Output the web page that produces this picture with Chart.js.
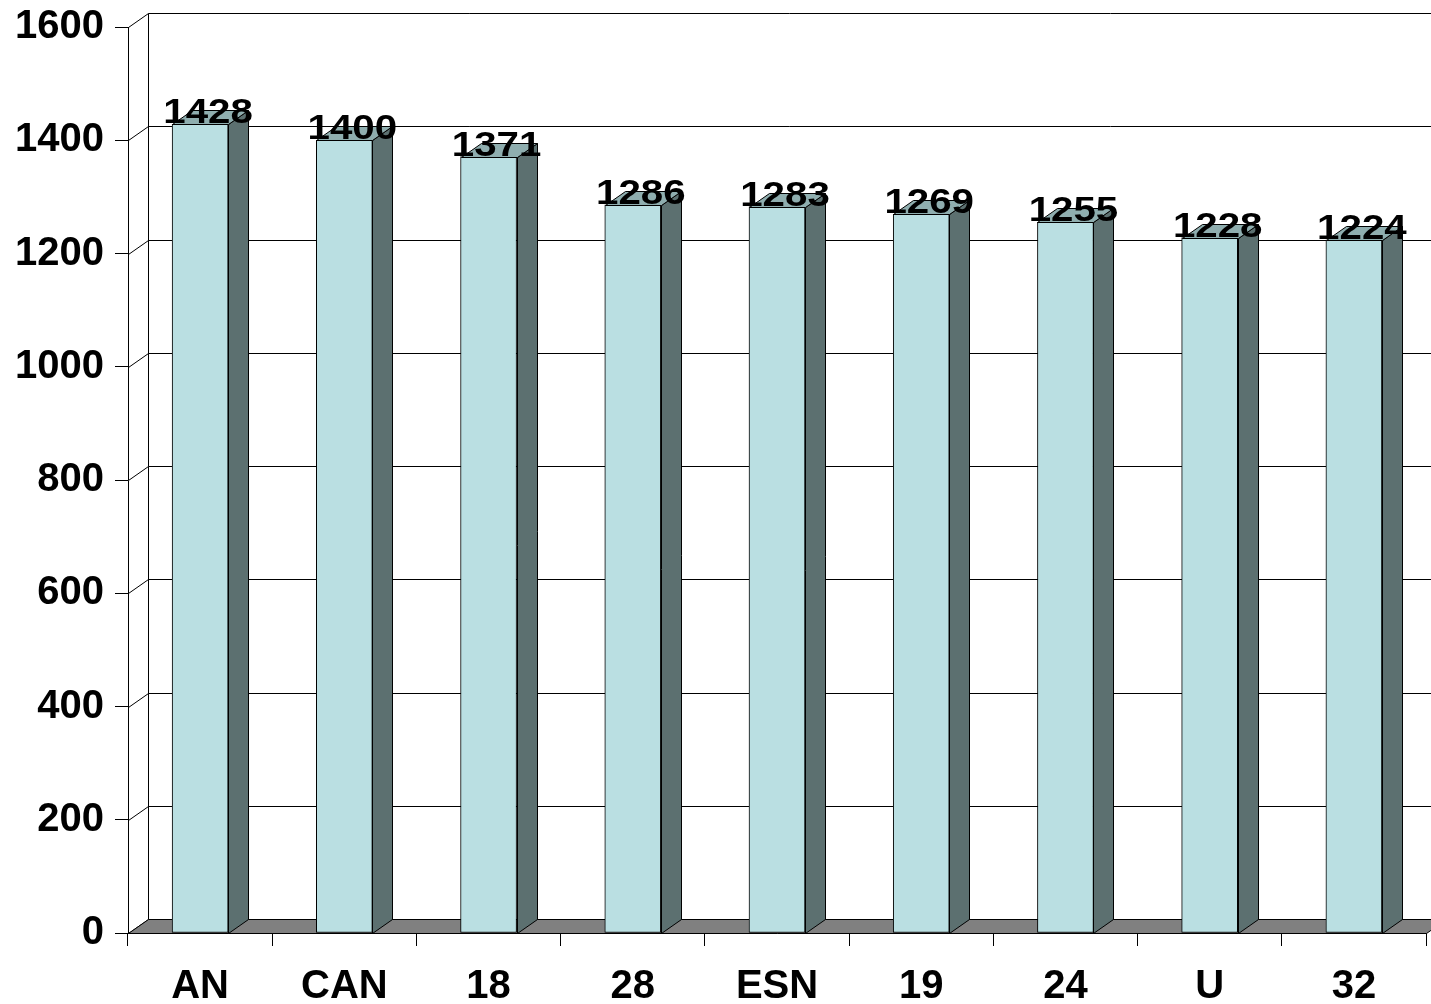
<!DOCTYPE html>
<html>
<head>
<meta charset="utf-8">
<script src="https://cdn.jsdelivr.net/npm/chart.js@4/dist/chart.umd.min.js"></script>
<style>
  html, body { margin: 0; padding: 0; background: #fff; overflow: hidden; }
  #wrap { width: 1431px; height: 1004px; position: relative; }
</style>
</head>
<body>
<div id="wrap"><canvas id="c"></canvas></div>
<script>
const categories = ['AN', 'CAN', '18', '28', 'ESN', '19', '24', 'U', '32'];
const values = [1428, 1400, 1371, 1286, 1283, 1269, 1255, 1228, 1224];
const yTicks = [0, 200, 400, 600, 800, 1000, 1200, 1400, 1600];

// depth of the 3-D box (pixels to the right / up)
const DX = 20, DY = 14;
const FRONT = '#BADFE2', SIDE = '#5C7070', TOP = '#8FAEAF', FLOOR = '#808080';
const FONT = '"Liberation Sans", Arial, sans-serif';

function poly(ctx, pts, fill) {
  ctx.beginPath();
  ctx.moveTo(pts[0][0], pts[0][1]);
  for (let i = 1; i < pts.length; i++) ctx.lineTo(pts[i][0], pts[i][1]);
  ctx.closePath();
  if (fill) { ctx.fillStyle = fill; ctx.fill(); }
  ctx.stroke();
}
function seg(ctx, x1, y1, x2, y2) {
  ctx.beginPath(); ctx.moveTo(x1, y1); ctx.lineTo(x2, y2); ctx.stroke();
}

// back wall, side wall and floor of the 3-D box
const wallsPlugin = {
  id: 'walls3d',
  beforeDatasetsDraw(chart) {
    const { ctx, chartArea: a, scales: { y } } = chart;
    ctx.save();
    ctx.strokeStyle = '#000';
    ctx.lineWidth = 1;
    const L = a.left + 0.5;
    yTicks.forEach(v => {
      const py = Math.round(y.getPixelForValue(v)) + 0.5;
      if (v > 0) seg(ctx, L + DX, py - DY, chart.width, py - DY);
      seg(ctx, L, py, L + DX, py - DY);
    });
    const top = Math.round(y.getPixelForValue(yTicks[yTicks.length - 1])) + 0.5;
    const bot = Math.round(y.getPixelForValue(0)) + 0.5;
    seg(ctx, L + DX, top - DY, L + DX, bot - DY);
    const R = a.right + 0.5;
    poly(ctx, [[L, bot], [R, bot], [R + DX, bot - DY], [L + DX, bot - DY]], FLOOR);
    ctx.restore();
  },
  afterDatasetsDraw(chart) {
    const { ctx } = chart;
    const meta = chart.getDatasetMeta(0);
    ctx.save();
    ctx.strokeStyle = '#000';
    ctx.lineWidth = 1;
    meta.data.forEach(el => {
      const p = el.getProps(['x', 'y', 'base', 'width'], true);
      const x1 = Math.round(p.x - p.width / 2) + 0.5;
      const x2 = Math.round(p.x + p.width / 2) + 0.5;
      const yt = Math.round(p.y) + 0.5;
      const yb = Math.round(p.base) + 0.5;
      poly(ctx, [[x2, yt], [x2 + DX, yt - DY], [x2 + DX, yb - DY], [x2, yb]], SIDE);
      poly(ctx, [[x1, yt], [x2, yt], [x2 + DX, yt - DY], [x1 + DX, yt - DY]], TOP);
    });
    // value labels
    ctx.fillStyle = '#000';
    ctx.font = 'bold 35px ' + FONT;
    ctx.textAlign = 'center';
    ctx.textBaseline = 'alphabetic';
    meta.data.forEach((el, i) => {
      const p = el.getProps(['x', 'y'], true);
      ctx.save();
      ctx.translate(p.x + 8, p.y - 1);
      ctx.scale(1.15, 1);
      ctx.fillText(String(values[i]), 0, 0);
      ctx.restore();
    });
    ctx.restore();
  }
};

const tickFont = { family: FONT, size: 40, weight: 'bold' };

new Chart(document.getElementById('c'), {
  type: 'bar',
  data: {
    labels: categories,
    datasets: [{
      data: values,
      backgroundColor: FRONT,
      borderColor: '#000',
      borderWidth: 1,
      borderSkipped: false,
      barThickness: 56
    }]
  },
  options: {
    responsive: true,
    maintainAspectRatio: false,
    animation: false,
    devicePixelRatio: 1,
    layout: { padding: { top: 27, right: 5, left: 0, bottom: 0 } },
    plugins: { legend: { display: false }, tooltip: { enabled: false } },
    scales: {
      x: {
        offset: true,
        grid: { offset: true, drawOnChartArea: false, drawTicks: true, tickLength: 13, color: '#000', lineWidth: 1 },
        border: { display: true, color: '#000', width: 1 },
        ticks: { font: tickFont, color: '#000', padding: 17, maxRotation: 0, autoSkip: false },
        afterFit(s) { s.height = 71; s.paddingLeft = 0; s.paddingRight = 0; }
      },
      y: {
        min: 0,
        max: 1600,
        afterBuildTicks(s) { s.ticks = yTicks.map(v => ({ value: v })); },
        grid: { drawOnChartArea: false, drawTicks: true, tickLength: 13, color: '#000', lineWidth: 1 },
        border: { display: true, color: '#000', width: 1 },
        ticks: { font: tickFont, color: '#000', padding: 11, callback: v => String(v) },
        afterFit(s) { s.width = 128; s.paddingTop = 0; s.paddingBottom = 0; }
      }
    }
  },
  plugins: [wallsPlugin]
});
</script>
</body>
</html>
